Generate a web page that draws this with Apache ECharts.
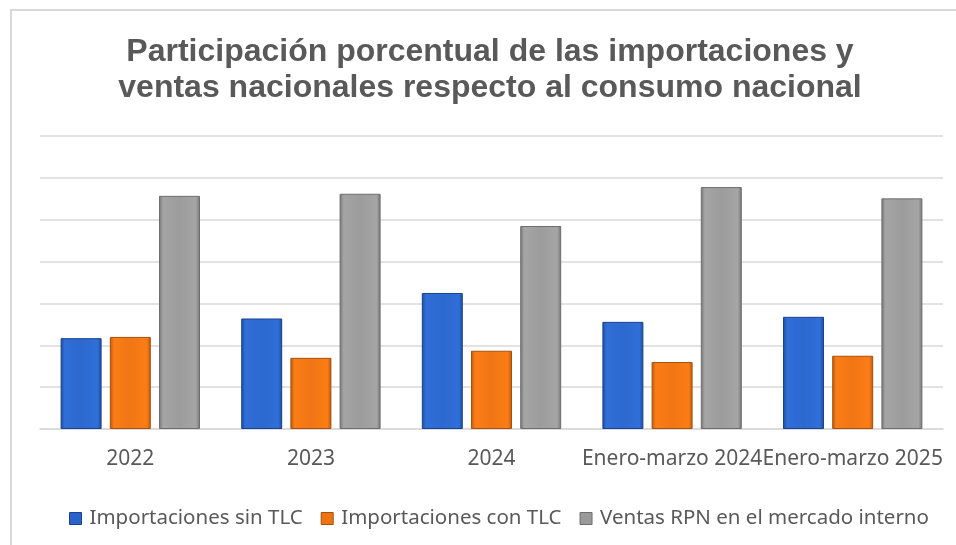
<!DOCTYPE html>
<html>
<head>
<meta charset="utf-8">
<script src="https://cdn.jsdelivr.net/npm/echarts@6/dist/echarts.min.js"></script>
<style>
  html, body { margin: 0; padding: 0; background: #fff; }
  #chart { width: 956px; height: 545px; }
</style>
</head>
<body>
<div id="chart"></div>
<script>
// datos (porcentaje del consumo nacional, estimado)
const categorias = ['2022', '2023', '2024', 'Enero-marzo 2024', 'Enero-marzo 2025'];
const sinTLC = [21.7, 26.4, 32.5, 25.6, 26.8];
const conTLC = [22.0, 17.0, 18.7, 16.0, 17.5];
const ventasRPN = [55.7, 56.2, 48.5, 57.8, 55.1];
const nombres = ['Importaciones sin TLC', 'Importaciones con TLC', 'Ventas RPN en el mercado interno'];

// degradado horizontal para imitar el bisel de Excel
function bisel(oscuro, claro, medio) {
    return new echarts.graphic.LinearGradient(0, 0, 1, 0, [
        { offset: 0, color: oscuro },
        { offset: 0.1, color: claro },
        { offset: 0.5, color: medio },
        { offset: 0.9, color: claro },
        { offset: 1, color: oscuro }
    ]);
}

const colores = [
    { fill: bisel('#1d4b9c', '#2f6fd8', '#2c68cf'), borde: '#1a438c', icono: '#2a63c8' },
    { fill: bisel('#b8570f', '#fb7d16', '#f07514'), borde: '#a84f0d', icono: '#ee7413' },
    { fill: bisel('#747474', '#a5a5a5', '#9c9c9c'), borde: '#6e6e6e', icono: '#9a9a9a' }
];

const chart = echarts.init(document.getElementById('chart'));

function serie(i, datos) {
    return {
        name: nombres[i],
        type: 'bar',
        data: datos,
        barWidth: 41,
        barGap: '20%',
        itemStyle: {
            color: colores[i].fill,
            borderColor: colores[i].borde,
            borderWidth: 1
        }
    };
}

chart.setOption({
    animation: false,
    textStyle: { fontFamily: 'Noto Sans' },
    title: {
        text: 'Participación porcentual de las importaciones y\nventas nacionales respecto al consumo nacional',
        left: 485,
        top: 29,
        textAlign: 'center',
        textStyle: {
            fontFamily: 'Liberation Sans',
            fontWeight: 'bold',
            fontSize: 32,
            lineHeight: 36,
            color: '#595959'
        }
    },
    legend: {
        top: 503,
        left: 64,
        width: 892,
        itemWidth: 12,
        itemHeight: 12,
        itemGap: 18,
        icon: 'rect',
        textStyle: { fontSize: 20.5, color: '#595959', padding: [0, 0, 0, 3] },
        data: nombres.map((n, i) => ({ name: n, itemStyle: { color: colores[i].icono, borderColor: colores[i].borde, borderWidth: 1 } }))
    },
    grid: { left: 40, right: 13, top: 136, bottom: 116, containLabel: false },
    xAxis: {
        type: 'category',
        data: categorias,
        axisLine: { lineStyle: { color: '#d9d9d9', width: 1.5 } },
        axisTick: { show: false },
        axisLabel: { fontSize: 21, color: '#595959', margin: 20, interval: 0 }
    },
    yAxis: {
        type: 'value',
        min: 0,
        max: 70,
        interval: 10,
        axisLine: { show: false },
        axisTick: { show: false },
        axisLabel: { show: false },
        splitLine: { lineStyle: { color: '#d9d9d9', width: 1.5 } }
    },
    graphic: [{
        type: 'rect',
        shape: { x: 11, y: 10, width: 970, height: 560 },
        style: { fill: 'none', stroke: '#d9d9d9', lineWidth: 2 },
        silent: true
    }],
    series: [
        serie(0, sinTLC),
        serie(1, conTLC),
        serie(2, ventasRPN)
    ]
});
</script>
</body>
</html>
